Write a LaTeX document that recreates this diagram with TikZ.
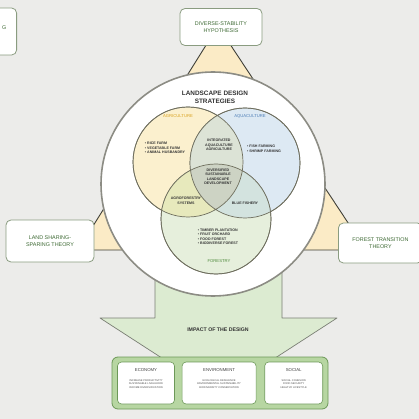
\documentclass[tikz,border=0pt]{standalone}
\usepackage{fontspec}
\setmainfont{Liberation Sans}
\usetikzlibrary{positioning}
\definecolor{bgGray}{HTML}{ECECEA}
\definecolor{triFill}{HTML}{FBEBC6}
\definecolor{triLine}{HTML}{3F3F38}
\definecolor{boxLine}{HTML}{8A9C80}
\definecolor{theoryText}{HTML}{3E6A34}
\definecolor{ringLine}{HTML}{8C8C84}
\definecolor{vennLine}{HTML}{6E6E5E}
\definecolor{agriFill}{HTML}{FBF0CE}
\definecolor{aquaFill}{HTML}{DDE9F3}
\definecolor{forestFill}{HTML}{E6EFDC}
\definecolor{agriForest}{HTML}{E7E9BC}
\definecolor{aquaForest}{HTML}{D3E3DF}
\definecolor{agriAqua}{HTML}{DCE3D6}
\definecolor{coreFill}{HTML}{CDD3C4}
\definecolor{agriText}{HTML}{D9A21F}
\definecolor{aquaText}{HTML}{4C7DB6}
\definecolor{forestText}{HTML}{4F8A3C}
\definecolor{arrowFill}{HTML}{DCEBD1}
\definecolor{arrowLine}{HTML}{7A7E74}
\definecolor{panelFill}{HTML}{B7D6A2}
\definecolor{panelLine}{HTML}{6C9858}
\begin{document}
\begin{tikzpicture}[x=1pt, y=-1pt,
  theorybox/.style={draw=boxLine, fill=white, rounded corners=5pt, line width=0.8pt, text=theoryText, align=center, font=\fontsize{5.4}{7}\selectfont},
  venn/.style={circle, draw=vennLine, line width=0.7pt, minimum size=110pt, inner sep=0pt},
  setname/.style={font=\fontsize{4.2}{5}\selectfont},
  itemtext/.style={font=\fontsize{3.6}{4.5}\selectfont\bfseries, align=center, text=black!80},
  itemlist/.style={font=\fontsize{3.6}{4.5}\selectfont\bfseries, align=left, text=black!80},
  impactbox/.style={draw=panelLine, fill=white, rounded corners=4pt, line width=0.6pt},
  impacthead/.style={font=\fontsize{4.3}{5}\selectfont, text=black!75},
  impacttext/.style={font=\fontsize{2.6}{3.6}\selectfont, align=center, text=black!70}]
\fill[bgGray] (0,0) rectangle (419,419);
\useasboundingbox (0,0) rectangle (419,419);

\coordinate (apex) at (218,26);
\coordinate (baseL) at (78,250);
\coordinate (baseR) at (366,250);
\filldraw[fill=triFill, draw=triLine, line width=0.9pt, line join=round] (apex) -- (baseL) -- (baseR) -- cycle;

\filldraw[fill=arrowFill, draw=arrowLine, line width=0.7pt, line join=round]
  (155,250) -- (155,318) -- (100,318) -- (168,362) -- (269,362) -- (337,318) -- (282,318) -- (282,250) -- cycle;
\node[font=\fontsize{5.2}{6}\selectfont\bfseries, text=black!80] (impact) at (218,330) {IMPACT OF THE DESIGN};

\node[circle, draw=ringLine, fill=white, line width=1.6pt, minimum size=224pt, inner sep=0pt] (scape) at (213,184) {};
\node[font=\fontsize{6.4}{7.6}\selectfont\bfseries, align=center, text=black!80] (scapetitle) at (215,97) {LANDSCAPE DESIGN\\STRATEGIES};

\node[venn, fill=agriFill] (agri) at (188,162) {};
\node[venn, fill=aquaFill] (aqua) at (245,163) {};
\node[venn, fill=forestFill] (forest) at (216,219) {};
\begin{scope}
  \clip (aqua.center) circle (55pt);
  \fill[aquaForest] (forest.center) circle (55pt);
\end{scope}
\begin{scope}
  \clip (agri.center) circle (55pt);
  \fill[agriAqua] (aqua.center) circle (55pt);
  \fill[agriForest] (forest.center) circle (55pt);
  \clip (aqua.center) circle (55pt);
  \fill[coreFill] (forest.center) circle (55pt);
\end{scope}
\draw[vennLine, line width=0.7pt] (agri.center) circle (55pt) (aqua.center) circle (55pt) (forest.center) circle (55pt);

\node[setname, text=agriText] (agriname) at (178,116) {AGRICULTURE};
\node[setname, text=aquaText] (aquaname) at (250,116) {AQUACULTURE};
\node[setname, text=forestText] (forestname) at (219,261) {FORESTRY};

\node[itemlist] (agrilist) at (165,148) {\textbullet\ RICE FARM\\\textbullet\ VEGETABLE FARM\\\textbullet\ ANIMAL HUSBANDRY};
\node[itemlist] (aqualist) at (264,149) {\textbullet\ FISH FARMING\\\textbullet\ SHRIMP FARMING};
\node[itemlist] (forestlist) at (218,237) {\textbullet\ TIMBER PLANTATION\\\textbullet\ FRUIT ORCHARD\\\textbullet\ FOOD FOREST\\\textbullet\ BIODIVERSE FOREST};
\node[itemtext] (integrated) at (219,145) {INTEGRATED\\AQUACULTURE\\AGRICULTURE};
\node[itemtext] (core) at (218,177) {DIVERSIFIED\\SUSTAINABLE\\LANDSCAPE\\DEVELOPMENT};
\node[itemtext] (agroforest) at (186,201) {AGROFORESTRY\\SYSTEMS};
\node[itemtext] (bluefish) at (245,203) {BLUE FISHERY};

\node[theorybox, minimum width=82pt, minimum height=37pt] (diverse) at (221,27) {DIVERSE-STABILITY\\HYPOTHESIS};
\node[theorybox, minimum width=88pt, minimum height=42pt] (sharing) at (50,241) {LAND SHARING-\\SPARING THEORY};
\node[theorybox, minimum width=84pt, minimum height=40pt, anchor=west] (transition) at (338,243) {FOREST TRANSITION\\THEORY};
\node[theorybox, minimum width=40pt, minimum height=47pt, anchor=east] (framing) at (17,31.5) {};
\node[theorybox, anchor=east, draw=none, fill=none] (framingtext) at (10,28) {G};

\node[draw=panelLine, fill=panelFill, rounded corners=6pt, line width=0.8pt, minimum width=216pt, minimum height=52pt] (panel) at (220,383) {};
\node[impactbox, minimum width=57pt, minimum height=42pt] (economy) at (146,383) {};
\node[impactbox, minimum width=74pt, minimum height=42pt, right=7pt of economy] (environment) {};
\node[impactbox, minimum width=58pt, minimum height=42pt, right=8pt of environment] (social) {};
\node[impacthead, below=3pt of economy.north] (economyhead) {ECONOMY};
\node[impacttext, below=1pt of economyhead] {INCREASE PRODUCTIVITY\\SUSTAINABLE LIVELIHOOD\\INCOME DIVERSIFICATION};
\node[impacthead, below=3pt of environment.north] (environmenthead) {ENVIRONMENT};
\node[impacttext, below=1pt of environmenthead] {ECOLOGICAL RESILIENCE\\ENVIRONMENTAL SUSTAINABILITY\\BIODIVERSITY CONSERVATION};
\node[impacthead, below=3pt of social.north] (socialhead) {SOCIAL};
\node[impacttext, below=1pt of socialhead] {SOCIAL COHESION\\FOOD SECURITY\\HEALTHY LIFESTYLE};
\end{tikzpicture}
\end{document}
